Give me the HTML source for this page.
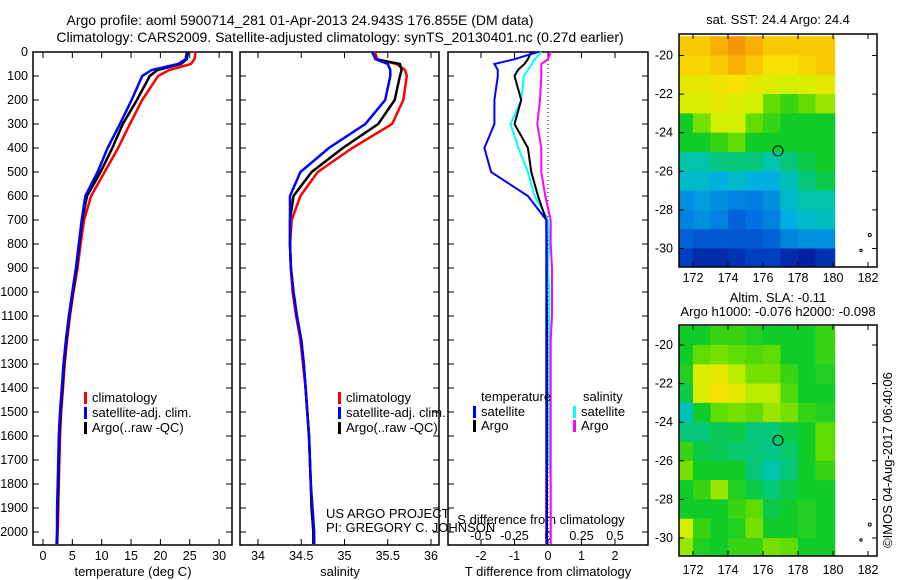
<!DOCTYPE html>
<html><head><meta charset="utf-8">
<style>
body{margin:0;background:#fff;}
svg{display:block;font-family:"Liberation Sans",sans-serif;font-size:13px;}
.tick{font-size:12.5px;}
.ttl{font-size:14px;}
</style></head>
<body>
<svg id="c" width="900" height="580" xmlns="http://www.w3.org/2000/svg">
<text class="ttl" x="300" y="25" text-anchor="middle">Argo profile: aoml 5900714_281 01-Apr-2013 24.943S 176.855E (DM data)</text>
<text class="ttl" x="340" y="42" text-anchor="middle">Climatology: CARS2009. Satellite-adjusted climatology: synTS_20130401.nc (0.27d earlier)</text>
<text x="778" y="24" text-anchor="middle">sat. SST: 24.4 Argo: 24.4</text>
<text x="778" y="302" text-anchor="middle">Altim. SLA: -0.11</text>
<text x="778" y="316" text-anchor="middle">Argo h1000: -0.076 h2000: -0.098</text>
<text transform="translate(892,460) rotate(-90)" text-anchor="middle">©IMOS 04-Aug-2017 06:40:06</text>
<text x="326" y="518">US ARGO PROJECT</text>
<text x="326" y="532">PI: GREGORY C. JOHNSON</text>
</svg>
<script>
// ---- data ----
const depths = [0,30,50,75,100,200,300,400,500,600,700,800,900,1000,1100,1200,1300,1400,1500,1600,1700,1800,1900,2000,2050];
const tempClim = [26,25.8,25.2,21.5,19.6,16.9,14.8,12.8,10.5,8.2,7,6.4,5.9,5.2,4.6,4.1,3.7,3.4,3.1,2.9,2.8,2.7,2.6,2.5,2.4];
const tempSat  = [24.5,24.3,23,18.5,16.9,15.1,13.1,11,9.3,7.2,6.6,6.1,5.6,5,4.4,3.9,3.5,3.2,2.9,2.7,2.6,2.5,2.4,2.4,2.3];
const tempArgo = [24.7,24.5,23.5,19.5,18.2,16,13.6,11.8,9.8,7.5,6.7,6.2,5.7,5.1,4.5,4,3.6,3.3,3,2.8,2.7,2.6,2.5,2.4,2.4];
const salClim = [35.35,35.38,35.6,35.7,35.72,35.68,35.55,35.09,34.69,34.49,34.39,34.37,34.38,34.4,34.44,34.49,34.52,34.55,34.57,34.59,34.6,34.61,34.62,34.64,34.64];
const salSat  = [35.32,35.36,35.5,35.53,35.53,35.47,35.24,34.82,34.49,34.37,34.37,34.37,34.38,34.41,34.45,34.5,34.53,34.55,34.57,34.59,34.6,34.61,34.63,34.65,34.65];
const salArgo = [35.32,35.36,35.64,35.66,35.64,35.58,35.39,34.98,34.62,34.41,34.37,34.37,34.38,34.41,34.45,34.5,34.53,34.55,34.57,34.59,34.6,34.61,34.62,34.64,34.64];
const tDiffSat  = [-0.3,-1,-1.6,-1.5,-1.5,-1.6,-1.6,-1.9,-1.7,-0.6,-0.05,-0.05,-0.05,-0.05,-0.05,-0.05,-0.05,-0.05,-0.05,-0.05,-0.05,-0.05,-0.05,-0.05,-0.05];
const tDiffArgo = [-0.5,-0.6,-0.7,-0.9,-1.0,-0.8,-1.0,-0.6,-0.5,-0.3,-0.05,-0.04,-0.04,-0.04,-0.03,-0.03,-0.03,-0.03,-0.03,-0.03,-0.03,-0.03,-0.03,-0.03,-0.03];
const sDiffSat  = [-0.05,-0.1,-0.12,-0.15,-0.18,-0.2,-0.28,-0.22,-0.15,-0.1,0,0.01,0,0.01,0.01,0.01,0.01,0.01,0.01,0.01,0.01,0.02,0.02,0.02,0.02];
const sDiffArgo = [0.02,0,-0.05,-0.05,-0.05,-0.06,-0.08,-0.05,-0.05,-0.02,0.02,0.02,0.03,0.03,0.03,0.02,0.02,0.02,0.02,0.02,0.02,0.02,0.02,0.02,0.02];
const depthTicks = [0,100,200,300,400,500,600,700,800,900,1000,1100,1200,1300,1400,1500,1600,1700,1800,1900,2000];
const tempTicks = [0,5,10,15,20,25,30];
const salTicks = [34,34.5,35,35.5,36];
const tDiffTicks = [-2,-1,0,1,2];
const sDiffTicks = [-0.5,-0.25,0,0.25,0.5];
const sstGrid = [
[.85,.85,.9,.95,.9,.85,.85,.85,.85],
[.82,.82,.85,.9,.85,.8,.8,.82,.85],
[.75,.75,.78,.8,.75,.72,.7,.72,.75],
[.72,.72,.75,.72,.7,.6,.55,.6,.65],
[.5,.62,.7,.7,.6,.55,.5,.5,.5],
[.5,.5,.55,.6,.5,.5,.5,.5,.5],
[.42,.42,.45,.45,.45,.42,.45,.48,.5],
[.38,.38,.35,.38,.35,.35,.4,.45,.48],
[.3,.32,.3,.28,.27,.3,.38,.42,.42],
[.28,.3,.28,.22,.25,.28,.35,.38,.4],
[.22,.2,.2,.2,.2,.22,.28,.3,.3],
[.15,.1,.1,.12,.15,.15,.1,.08,.12]];
const slaGrid = [
[.5,.5,.55,.55,.52,.5,.5,.5,.55],
[.5,.6,.62,.6,.58,.6,.5,.5,.55],
[.52,.72,.75,.68,.62,.62,.55,.5,.52],
[.48,.72,.8,.75,.68,.68,.58,.5,.5],
[.4,.5,.6,.62,.6,.65,.62,.55,.52],
[.45,.45,.47,.48,.45,.45,.48,.5,.6],
[.55,.48,.47,.46,.45,.44,.46,.5,.6],
[.62,.5,.5,.5,.45,.42,.45,.5,.55],
[.5,.55,.65,.52,.48,.45,.48,.5,.5],
[.5,.5,.5,.55,.6,.48,.5,.52,.5],
[.7,.55,.5,.52,.62,.5,.5,.52,.5],
[.65,.52,.5,.55,.55,.62,.6,.5,.5]];
const lonTicks = [172,174,176,178,180,182];
const latTicks = [-20,-22,-24,-26,-28,-30];
const argoLon = 176.855, argoLat = -24.943;

// ---- helpers ----
const svg = document.getElementById('c');
const NS = 'http://www.w3.org/2000/svg';
function mk(tag, attrs, parent){const e=document.createElementNS(NS,tag);for(const k in attrs)e.setAttribute(k,attrs[k]);(parent||svg).appendChild(e);return e;}
function txt(x,y,s,anchor,parent){const t=mk('text',{x:x,y:y,'text-anchor':anchor||'middle'},parent);t.textContent=s;return t;}
const yTop=52, yBot=545;
const yD = d => yTop + d*0.24;

function panel(x0,x1,name){
  const g=mk('g',{});
  
  
  const r=mk('rect',{x:x0,y:yTop,width:x1-x0,height:yBot-yTop,fill:'none',stroke:'#000','stroke-width':1.5},g);
  
  
  depthTicks.forEach(d=>{mk('line',{x1:x0,x2:x0+6,y1:yD(d),y2:yD(d),stroke:'#000'},g);mk('line',{x1:x1-6,x2:x1,y1:yD(d),y2:yD(d),stroke:'#000'},g);});
  return g;
}
function series(g,xs,fx,color,name,w){
  const pts=depths.map((d,i)=>fx(xs[i]).toFixed(1)+','+yD(d).toFixed(1)).join(' ');
  const p=mk('polyline',{points:pts,fill:'none',stroke:color,'stroke-width':w||2.5},g);
  
  
}
function xticks(g,ticks,fx,labelY,fmt){
  ticks.forEach(v=>{const x=fx(v);mk('line',{x1:x,x2:x,y1:yBot-6,y2:yBot,stroke:'#000'},g);mk('line',{x1:x,x2:x,y1:yTop,y2:yTop+6,stroke:'#000'},g);
    const t=txt(x,labelY,fmt?fmt(v):String(v),'middle',g);
    t.setAttribute('class','tick');
    
    });
}
function legendItem(g,x,y,color,label){
  mk('rect',{x:x,y:y-10,width:3,height:12,fill:color},g);
  const t=txt(x+8,y,label,'start',g);
  
  
}

// y axis labels
depthTicks.forEach(d=>{const t=txt(28,yD(d)+4,String(d),'end');
  t.setAttribute('class','tick');
  
  });

// panel 1 temperature
const fT = v => 43 + v*5.87;
const g1 = panel(33,232,'temperature-panel');
xticks(g1,tempTicks,fT,560);
let at=txt(133,576,'temperature (deg C)','middle',g1);


series(g1,tempClim,fT,'#ff0000','temp-climatology-line');
series(g1,tempArgo,fT,'#000000','temp-argo-line');
series(g1,tempSat,fT,'#0000ff','temp-satellite-line');
legendItem(g1,84,402,'#ff0000','climatology');
legendItem(g1,84,417,'#0000ff','satellite-adj. clim.');
legendItem(g1,84,432,'#000000','Argo(..raw -QC)');

// panel 2 salinity
const fS = v => 258 + (v-34)*86.5;
const g2 = panel(240,439,'salinity-panel');
xticks(g2,salTicks,fS,560);
at=txt(340,576,'salinity','middle',g2);


series(g2,salClim,fS,'#ff0000','sal-climatology-line');
series(g2,salArgo,fS,'#000000','sal-argo-line');
series(g2,salSat,fS,'#0000ff','sal-satellite-line');
legendItem(g2,338,402,'#ff0000','climatology');
legendItem(g2,338,417,'#0000ff','satellite-adj. clim.');
legendItem(g2,338,432,'#000000','Argo(..raw -QC)');

// panel 3 differences
const fTD = v => 548 + v*33.5;
const fSD = v => 548 + v*134;
const g3 = panel(448,648,'difference-panel');
mk('line',{x1:548,x2:548,y1:yTop,y2:yBot,stroke:'#000','stroke-dasharray':'1,3'},g3);
xticks(g3,tDiffTicks,fTD,560);
sDiffTicks.forEach(v=>{const t=txt(fSD(v),540,v===0?'0':String(v),'middle',g3);
  t.setAttribute('class','tick');
  
  });
at=txt(541,524,'S difference from climatology','middle',g3);


at=txt(548,576,'T difference from climatology','middle',g3);


series(g3,sDiffSat,fSD,'#00ffff','s-diff-satellite-line',2);
series(g3,sDiffArgo,fSD,'#ff00ff','s-diff-argo-line',2);
series(g3,tDiffArgo,fTD,'#000000','t-diff-argo-line',2);
series(g3,tDiffSat,fTD,'#0000ff','t-diff-satellite-line',2);
at=txt(481,401,'temperature','start',g3);


at=txt(583,401,'salinity','start',g3);


legendItem(g3,473,416,'#0000ff','satellite');
legendItem(g3,473,430,'#000000','Argo');
legendItem(g3,573,416,'#00ffff','satellite');
legendItem(g3,573,430,'#ff00ff','Argo');

// maps
const cmStops=[[0,[0,0,128]],[.15,[0,64,192]],[.25,[0,112,224]],[.35,[0,176,224]],[.42,[0,196,170]],[.5,[16,204,40]],[.6,[96,220,0]],[.7,[208,240,0]],[.8,[248,224,0]],[.9,[248,176,0]],[1,[240,128,0]]];
function cmap(v){for(let i=1;i<cmStops.length;i++){if(v<=cmStops[i][0]){const a=cmStops[i-1],b=cmStops[i],t=(v-a[0])/(b[0]-a[0]);return 'rgb('+a[1].map((c,k)=>Math.round(c+(b[1][k]-c)*t)).join(',')+')';}}return 'rgb(240,128,0)';}
function map(frameTop,frameBot,lat20y,grid,name,labelY){
  const fx = lon => 693 + (lon-172)*17.5;
  const fy = lat => lat20y + (-20-lat)*19.3;
  const g=mk('g',{});
  
  
  const lonEdges=[171.2,172,173,174,175,176,177,178,179,180.1];
  grid.forEach((row,r)=>row.forEach((v,c)=>{
    const y0=Math.max(frameTop+1,fy(-19-r)), y1=Math.min(frameBot-1,fy(-20-r));
    const cell=mk('rect',{x:fx(lonEdges[c]),y:y0,width:fx(lonEdges[c+1])-fx(lonEdges[c])+0.5,height:y1-y0+0.5,fill:cmap(v)},g);
    
    
  }));
  mk('rect',{x:679,y:frameTop,width:198,height:frameBot-frameTop,fill:'none',stroke:'#000','stroke-width':1.5},g);
  lonTicks.forEach(l=>{const x=fx(l);mk('line',{x1:x,x2:x,y1:frameTop,y2:frameTop+5,stroke:'#000'},g);mk('line',{x1:x,x2:x,y1:frameBot-5,y2:frameBot,stroke:'#000'},g);
    const t=txt(x,labelY,String(l),'middle',g);
    t.setAttribute('class','tick');
    
    });
  latTicks.forEach(l=>{const y=fy(l);mk('line',{x1:679,x2:684,y1:y,y2:y,stroke:'#000'},g);mk('line',{x1:872,x2:877,y1:y,y2:y,stroke:'#000'},g);
    const t=txt(673,y+4,String(l),'end',g);
    t.setAttribute('class','tick');
    
    });
  const c=mk('circle',{cx:fx(argoLon),cy:fy(argoLat),r:5,fill:'none',stroke:'#000'},g);
  
  
  mk('circle',{cx:fx(182.1),cy:fy(-29.3),r:1.5,fill:'none',stroke:'#000'},g);
  mk('circle',{cx:fx(181.6),cy:fy(-30.1),r:1.2,fill:'none',stroke:'#000'},g);
}
map(34,267,55.5,sstGrid,'sst-map',282);
map(325,556,345,slaGrid,'sla-map',574);
</script>
</body></html>
